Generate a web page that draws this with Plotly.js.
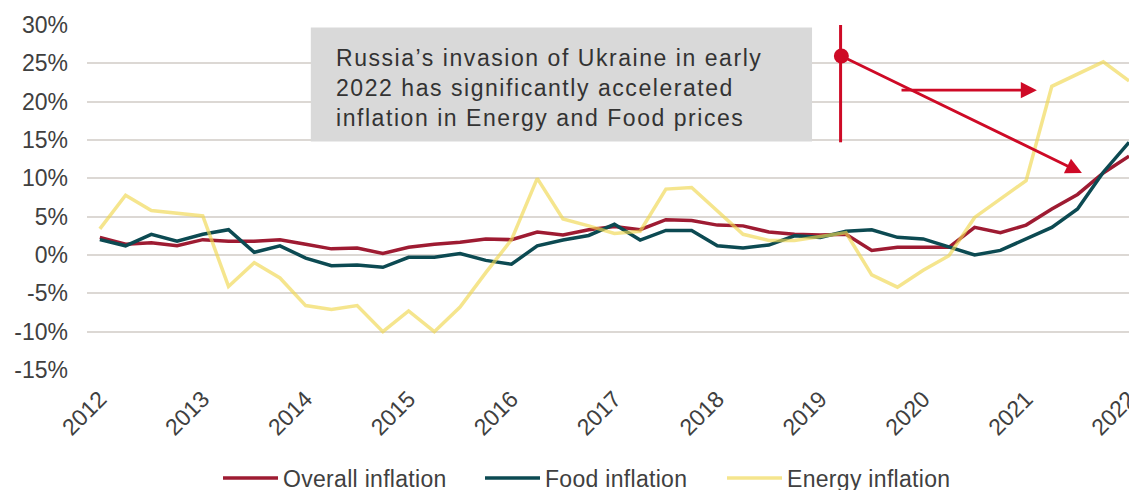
<!DOCTYPE html>
<html>
<head>
<meta charset="utf-8">
<script src="https://cdn.plot.ly/plotly-3.0.1.min.js"></script>
<style>
  html, body { margin: 0; padding: 0; background: #ffffff; }
  #chart { width: 1129px; height: 490px; }
  text.annotation-text { letter-spacing: 1.55px; }
  text.legendtext { letter-spacing: 0.3px; }
</style>
</head>
<body>
<div id="chart"></div>
<script>
// Quarterly categories, 2012 Q1 .. 2022 Q1
const quarters = [
  "2012 Q1","2012 Q2","2012 Q3","2012 Q4",
  "2013 Q1","2013 Q2","2013 Q3","2013 Q4",
  "2014 Q1","2014 Q2","2014 Q3","2014 Q4",
  "2015 Q1","2015 Q2","2015 Q3","2015 Q4",
  "2016 Q1","2016 Q2","2016 Q3","2016 Q4",
  "2017 Q1","2017 Q2","2017 Q3","2017 Q4",
  "2018 Q1","2018 Q2","2018 Q3","2018 Q4",
  "2019 Q1","2019 Q2","2019 Q3","2019 Q4",
  "2020 Q1","2020 Q2","2020 Q3","2020 Q4",
  "2021 Q1","2021 Q2","2021 Q3","2021 Q4",
  "2022 Q1"
];

const overallInflation = [
  2.3, 1.4, 1.6, 1.2,
  2.0, 1.8, 1.8, 2.0,
  1.4, 0.8, 0.9, 0.2,
  1.0, 1.4, 1.65, 2.1,
  2.0, 3.0, 2.6, 3.3,
  3.7, 3.3, 4.6, 4.5,
  3.9, 3.8, 3.0, 2.7,
  2.6, 2.7, 0.6, 1.0,
  1.0, 1.0, 3.6, 2.9,
  3.9, 6.0, 7.9, 10.7,
  12.9
];

const foodInflation = [
  2.0, 1.2, 2.7, 1.8,
  2.7, 3.3, 0.35, 1.2,
  -0.4, -1.4, -1.3, -1.6,
  -0.3, -0.3, 0.2, -0.7,
  -1.2, 1.2, 1.95, 2.55,
  4.0, 1.95, 3.2, 3.2,
  1.2, 0.9, 1.3, 2.5,
  2.3, 3.1, 3.3, 2.3,
  2.1, 1.0, 0.0, 0.6,
  2.1, 3.6, 6.0, 10.8,
  14.7
];

const energyInflation = [
  3.4, 7.8, 5.8, 5.5,
  5.1, -4.1, -1.0, -3.0,
  -6.6, -7.1, -6.6, -10.0,
  -7.3, -10.0, -6.8, -2.3,
  2.0, 10.0, 4.7, 3.8,
  2.8, 3.1, 8.6, 8.8,
  5.7, 2.7, 1.9, 1.9,
  2.4, 2.9, -2.6, -4.2,
  -2.0, -0.1, 4.9, 7.3,
  9.7, 22.0, 23.6, 25.2,
  22.7
];

const seriesNames = ["Overall inflation", "Food inflation", "Energy inflation"];

const yearTickCategories = ["2012 Q1","2013 Q1","2014 Q1","2015 Q1","2016 Q1","2017 Q1","2018 Q1","2019 Q1","2020 Q1","2021 Q1","2022 Q1"];
const yearTickLabels = ["2012","2013","2014","2015","2016","2017","2018","2019","2020","2021","2022"];

const yTickValues = [-15, -10, -5, 0, 5, 10, 15, 20, 25, 30];
const yTickLabels = ["-15%", "-10%", "-5%", "0%", "5%", "10%", "15%", "20%", "25%", "30%"];

const noteText = "Russia\u2019s invasion of Ukraine in early<br>2022 has significantly accelerated<br>inflation in Energy and Food prices";

const FONT = "Liberation Sans, Arial, sans-serif";
const RED = "#CE0A26";

const traces = [
  { x: quarters, y: overallInflation, name: seriesNames[0], type: "scatter", mode: "lines",
    line: { color: "#9E1B32", width: 3.5 }, legendwidth: 192 },
  { x: quarters, y: foodInflation, name: seriesNames[1], type: "scatter", mode: "lines",
    line: { color: "#0C4A52", width: 3.5 }, legendwidth: 172 },
  { x: quarters, y: energyInflation, name: seriesNames[2], type: "scatter", mode: "lines",
    line: { color: "rgba(240,215,80,0.65)", width: 3.5 }, legendwidth: 168 }
];

const layout = {
  width: 1129,
  height: 490,
  margin: { l: 87, r: 0, t: 25, b: 120 },
  paper_bgcolor: "#ffffff",
  plot_bgcolor: "#ffffff",
  font: { family: FONT, size: 23, color: "#404040" },
  showlegend: true,
  legend: {
    orientation: "h",
    xref: "container", yref: "container",
    x: 0.1931, xanchor: "left",
    y: 0.0245, yanchor: "middle",
    font: { family: FONT, size: 23, color: "#404040" },
    itemwidth: 55,
    borderwidth: 0,
    bgcolor: "rgba(0,0,0,0)"
  },
  xaxis: {
    type: "category",
    categoryorder: "array",
    categoryarray: quarters,
    range: [-0.5, 40],
    tickvals: yearTickCategories,
    ticktext: yearTickLabels,
    tickangle: -45,
    tickfont: { family: FONT, size: 23, color: "#404040" },
    ticklabelstandoff: 10,
    showgrid: false,
    zeroline: false,
    showline: false,
    ticks: "",
    automargin: false
  },
  yaxis: {
    range: [-15, 30],
    tickvals: yTickValues,
    ticktext: yTickLabels,
    tickfont: { family: FONT, size: 23, color: "#404040" },
    showgrid: true,
    gridcolor: "#DCD8D4",
    gridwidth: 2,
    zeroline: false,
    showline: false,
    ticks: "",
    ticklabelstandoff: 18,
    automargin: false
  },
  shapes: [
    { type: "rect", xref: "paper", yref: "paper", layer: "above",
      x0: 0.2148, x1: 0.6958, y0: 0.662, y1: 0.9927,
      fillcolor: "#D9D9D9", line: { width: 0 } },
    { type: "line", xref: "x", yref: "y", layer: "above",
      x0: 28.79, x1: 28.79, y0: 30.1, y1: 14.7,
      line: { color: RED, width: 3 } },
    { type: "circle", xref: "x", yref: "y", layer: "above",
      xsizemode: "pixel", ysizemode: "pixel",
      xanchor: 28.82, yanchor: 25.96,
      x0: -7.5, x1: 7.5, y0: -7.5, y1: 7.5,
      fillcolor: RED, line: { color: RED, width: 0 } }
  ],
  annotations: [
    { xref: "paper", yref: "paper", x: 0.237, y: 0.818,
      xanchor: "left", yanchor: "middle", align: "left",
      text: noteText, showarrow: false,
      font: { family: FONT, size: 23, color: "#333333" } },
    { xref: "x", yref: "y", axref: "x", ayref: "y",
      x: 38.17, y: 10.7, ax: 28.82, ay: 25.96,
      text: "", showarrow: true, arrowhead: 2, arrowsize: 1.15, arrowwidth: 2.8,
      arrowcolor: RED, standoff: 0, startstandoff: 0 },
    { xref: "x", yref: "y", axref: "x", ayref: "y",
      x: 36.42, y: 21.5, ax: 31.1, ay: 21.5,
      text: "", showarrow: true, arrowhead: 2, arrowsize: 1.15, arrowwidth: 2.8,
      arrowcolor: RED, standoff: 0, startstandoff: 0 }
  ]
};

Plotly.newPlot("chart", traces, layout, { displayModeBar: false, staticPlot: true });
</script>
</body>
</html>
